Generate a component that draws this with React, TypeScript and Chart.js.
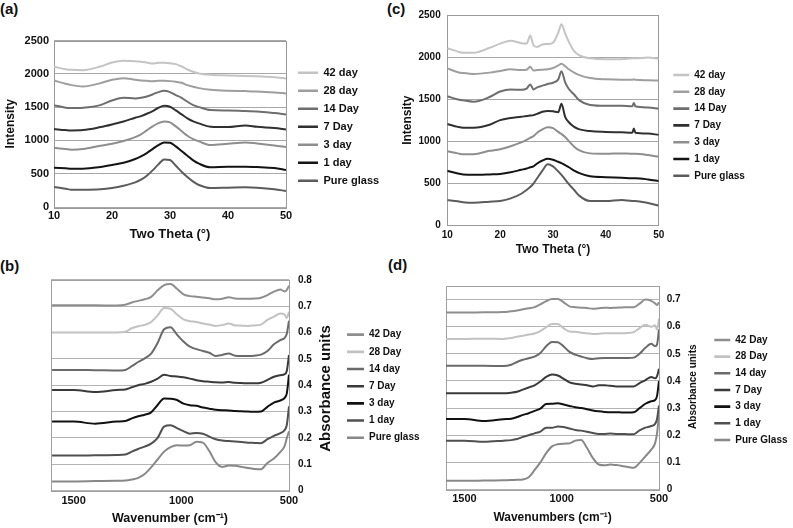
import React, { useEffect, useRef } from 'react';
import { Chart, registerables } from 'chart.js';

Chart.register(...registerables);

const FONT = "'Liberation Sans', Arial, Helvetica, sans-serif";
const TEXT = '#111111';

// ---------- (a) XRD ----------
const thetaA = [10, 12, 13, 15, 18, 20, 22, 24, 25, 26, 27, 28, 29, 30, 31, 32, 33, 34, 35, 37, 40, 43, 45, 48, 50];
const a42 = [2105, 2070, 2060, 2055, 2110, 2170, 2195, 2190, 2180, 2170, 2155, 2165, 2165, 2160, 2145, 2110, 2065, 2030, 2005, 1985, 1975, 1968, 1962, 1950, 1930];
const a28 = [1900, 1850, 1830, 1810, 1860, 1910, 1935, 1910, 1900, 1895, 1890, 1895, 1895, 1890, 1880, 1865, 1830, 1805, 1785, 1760, 1745, 1740, 1735, 1720, 1705];
const a14 = [1530, 1490, 1485, 1490, 1530, 1600, 1640, 1630, 1640, 1660, 1690, 1725, 1745, 1725, 1680, 1640, 1580, 1530, 1500, 1455, 1450, 1440, 1435, 1410, 1390];
const a7 = [1170, 1155, 1150, 1155, 1200, 1240, 1285, 1340, 1365, 1400, 1440, 1490, 1520, 1505, 1450, 1390, 1330, 1285, 1255, 1205, 1200, 1225, 1205, 1185, 1165];
const a3 = [890, 870, 860, 870, 920, 950, 990, 1050, 1090, 1150, 1210, 1260, 1285, 1270, 1210, 1140, 1070, 1020, 985, 930, 950, 970, 955, 925, 900];
const a1 = [590, 580, 575, 575, 600, 630, 665, 720, 760, 810, 870, 930, 970, 965, 910, 840, 770, 700, 650, 595, 605, 605, 600, 585, 555];
const a0 = [300, 275, 260, 258, 265, 285, 320, 370, 410, 470, 550, 640, 715, 705, 620, 530, 450, 380, 330, 285, 290, 295, 290, 268, 240];

// ---------- (c) XRD ----------
const thetaC = [10, 12, 13, 15, 18, 20, 22, 24, 25, 25.7, 26.3, 27, 28, 29, 30, 31, 31.6, 32.3, 33, 34, 35, 37, 40, 43, 45, 45.3, 45.6, 48, 50];
const c42 = [2105, 2065, 2050, 2050, 2110, 2160, 2195, 2165, 2160, 2255, 2140, 2120, 2150, 2155, 2170, 2290, 2390, 2280, 2180, 2070, 2020, 1985, 1975, 1975, 1985, 1985, 1985, 1995, 1980];
const c28 = [1865, 1820, 1810, 1800, 1815, 1835, 1855, 1845, 1850, 1885, 1840, 1845, 1850, 1855, 1870, 1900, 1920, 1890, 1855, 1815, 1785, 1750, 1735, 1730, 1730, 1735, 1730, 1725, 1720];
const c14 = [1535, 1495, 1485, 1470, 1525, 1590, 1615, 1610, 1625, 1675, 1615, 1640, 1660, 1680, 1695, 1735, 1830, 1700, 1620, 1555, 1485, 1430, 1420, 1420, 1415, 1455, 1415, 1400, 1385];
const c7 = [1205, 1170, 1160, 1160, 1195, 1250, 1275, 1290, 1300, 1305, 1310, 1325, 1350, 1360, 1355, 1345, 1445, 1290, 1225, 1170, 1140, 1120, 1110, 1105, 1100, 1150, 1100, 1090, 1075];
const c3 = [880, 855, 845, 845, 885, 905, 940, 985, 1015, 1040, 1060, 1100, 1140, 1165, 1155, 1110, 1085, 1050, 1000, 935, 890, 855, 850, 855, 850, 850, 850, 835, 815];
const c1 = [648, 615, 605, 600, 605, 610, 630, 660, 675, 690, 700, 735, 770, 792, 780, 755, 740, 715, 690, 650, 620, 582, 572, 565, 560, 560, 560, 545, 525];
const c0 = [300, 285, 275, 268, 280, 290, 320, 375, 420, 455, 495, 560, 650, 725, 700, 640, 600, 545, 490, 420, 350, 290, 288, 300, 290, 290, 288, 265, 235];

// ---------- (b) / (d) FTIR ----------
const wave = [1600, 1500, 1400, 1300, 1260, 1230, 1200, 1170, 1140, 1110, 1080, 1050, 1020, 990, 960, 930, 900, 870, 840, 810, 780, 750, 720, 690, 660, 630, 600, 570, 540, 520, 510, 500];

const b42 = [0.703, 0.703, 0.703, 0.702, 0.705, 0.714, 0.72, 0.726, 0.735, 0.76, 0.78, 0.784, 0.766, 0.745, 0.738, 0.736, 0.733, 0.73, 0.726, 0.728, 0.734, 0.729, 0.728, 0.728, 0.729, 0.732, 0.742, 0.755, 0.763, 0.756, 0.762, 0.778];
const b28 = [0.6, 0.6, 0.6, 0.6, 0.603, 0.616, 0.624, 0.629, 0.64, 0.665, 0.693, 0.69, 0.668, 0.65, 0.643, 0.64, 0.634, 0.63, 0.625, 0.628, 0.634, 0.627, 0.626, 0.625, 0.627, 0.63, 0.648, 0.66, 0.672, 0.668, 0.655, 0.678];
const b14 = [0.458, 0.458, 0.457, 0.456, 0.458, 0.472, 0.488, 0.502, 0.52, 0.56, 0.612, 0.62, 0.592, 0.566, 0.546, 0.537, 0.53, 0.523, 0.511, 0.515, 0.52, 0.512, 0.511, 0.511, 0.512, 0.516, 0.53, 0.555, 0.571, 0.58, 0.596, 0.645];
const b7 = [0.382, 0.382, 0.374, 0.382, 0.384, 0.392, 0.4, 0.405, 0.413, 0.425, 0.44, 0.435, 0.433, 0.43, 0.425, 0.419, 0.415, 0.413, 0.411, 0.41, 0.412, 0.409, 0.408, 0.407, 0.407, 0.409, 0.42, 0.432, 0.438, 0.442, 0.455, 0.515];
const b3 = [0.262, 0.262, 0.254, 0.262, 0.264, 0.274, 0.282, 0.288, 0.297, 0.325, 0.35, 0.349, 0.344, 0.33, 0.324, 0.322, 0.315, 0.311, 0.307, 0.305, 0.304, 0.302, 0.301, 0.3, 0.299, 0.3, 0.318, 0.334, 0.342, 0.352, 0.37, 0.44];
const b1 = [0.133, 0.133, 0.134, 0.135, 0.137, 0.148, 0.158, 0.167, 0.178, 0.2, 0.243, 0.248, 0.237, 0.226, 0.216, 0.219, 0.216, 0.205, 0.195, 0.19, 0.188, 0.186, 0.184, 0.182, 0.181, 0.18, 0.195, 0.208, 0.218, 0.23, 0.25, 0.32];
const b0 = [0.035, 0.035, 0.036, 0.037, 0.038, 0.042, 0.048, 0.063, 0.088, 0.118, 0.148, 0.165, 0.172, 0.171, 0.172, 0.185, 0.182, 0.15, 0.107, 0.09, 0.095, 0.094, 0.09, 0.086, 0.082, 0.081, 0.105, 0.122, 0.147, 0.17, 0.2, 0.225];

const d42 = [0.652, 0.652, 0.653, 0.654, 0.657, 0.66, 0.664, 0.668, 0.672, 0.682, 0.694, 0.702, 0.702, 0.69, 0.675, 0.672, 0.67, 0.669, 0.666, 0.668, 0.67, 0.669, 0.67, 0.671, 0.672, 0.672, 0.685, 0.7, 0.695, 0.686, 0.68, 0.69];
const d28 = [0.555, 0.555, 0.556, 0.555, 0.558, 0.563, 0.567, 0.571, 0.575, 0.584, 0.598, 0.61, 0.61, 0.594, 0.582, 0.581, 0.578, 0.576, 0.573, 0.574, 0.576, 0.576, 0.576, 0.576, 0.577, 0.58, 0.595, 0.607, 0.6, 0.605, 0.59, 0.63];
const d14 = [0.456, 0.456, 0.456, 0.455, 0.46, 0.47, 0.478, 0.484, 0.49, 0.503, 0.528, 0.544, 0.543, 0.527, 0.507, 0.497, 0.49, 0.484, 0.481, 0.484, 0.485, 0.485, 0.485, 0.485, 0.485, 0.486, 0.5, 0.522, 0.537, 0.528, 0.535, 0.59];
const d7 = [0.355, 0.355, 0.355, 0.355, 0.357, 0.36, 0.368, 0.376, 0.384, 0.398, 0.415, 0.424, 0.42, 0.408, 0.395, 0.39, 0.387, 0.384, 0.38, 0.384, 0.384, 0.382, 0.38, 0.38, 0.38, 0.38, 0.392, 0.403, 0.415, 0.41, 0.418, 0.445];
const d3 = [0.26, 0.26, 0.252, 0.259, 0.261, 0.267, 0.275, 0.281, 0.29, 0.298, 0.315, 0.316, 0.318, 0.313, 0.308, 0.303, 0.3, 0.296, 0.291, 0.288, 0.286, 0.285, 0.285, 0.284, 0.284, 0.285, 0.3, 0.316, 0.325, 0.33, 0.345, 0.4];
const d1 = [0.18, 0.18, 0.176, 0.18, 0.182, 0.186, 0.194, 0.2, 0.207, 0.213, 0.228, 0.228, 0.232, 0.23, 0.225, 0.219, 0.217, 0.213, 0.208, 0.205, 0.205, 0.206, 0.205, 0.205, 0.204, 0.204, 0.218, 0.228, 0.234, 0.242, 0.26, 0.31];
const d0 = [0.032, 0.032, 0.033, 0.034, 0.035, 0.036, 0.037, 0.045, 0.071, 0.1, 0.134, 0.159, 0.167, 0.169, 0.17, 0.18, 0.182, 0.153, 0.116, 0.092, 0.089, 0.092, 0.09, 0.087, 0.083, 0.08, 0.098, 0.122, 0.147, 0.171, 0.208, 0.275];

// ---------- labels, ticks ----------
const xrdNames = ['42 day', '28 day', '14 Day', '7 Day', '3 day', '1 day', 'Pure glass'];
const ftirNamesB = ['42 Day', '28 Day', '14 day', '7 Day', '3 day', '1 day', 'Pure glass'];
const ftirNamesD = ['42 Day', '28 Day', '14 day', '7 Day', '3 day', '1 day', 'Pure Glass'];
const xrdColors = ['#c4c4c4', '#9e9e9e', '#6e6e6e', '#303030', '#8e8e8e', '#141414', '#5c5c5c'];
const ftirColors = ['#8e8e8e', '#c2c2c2', '#6a6a6a', '#3a3a3a', '#111111', '#505050', '#888888'];
const thetaTicks = [10, 20, 30, 40, 50];
const intensityTicks = [0, 500, 1000, 1500, 2000, 2500];
const waveTicks = [500, 1000, 1500];
const absTicksB = [0, 0.1, 0.2, 0.3, 0.4, 0.5, 0.6, 0.7, 0.8];
const absTicksD = [0, 0.1, 0.2, 0.3, 0.4, 0.5, 0.6, 0.7];

function buildSets(xs: number[], series: number[][], names: string[], colors: string[]) {
  return series.map((ys, i) => ({
    label: names[i],
    data: xs.map((x, j) => ({ x, y: ys[j] })),
    borderColor: colors[i],
    backgroundColor: colors[i],
    borderWidth: 2,
    pointRadius: 0,
    cubicInterpolationMode: 'monotone' as const,
    fill: false,
  }));
}

function f(size: number) {
  return { family: FONT, size, weight: 'bold' as const };
}

function framePlugin(color: string) {
  return {
    id: 'frame',
    beforeDatasetsDraw(chart: any) {
      const { ctx, chartArea: a } = chart;
      ctx.save();
      ctx.strokeStyle = color;
      ctx.lineWidth = 1;
      ctx.strokeRect(Math.round(a.left) + 0.5, Math.round(a.top) + 0.5, Math.round(a.right - a.left), Math.round(a.bottom - a.top));
      ctx.restore();
    },
  };
}

function legendPlace(left: number, top: number) {
  return {
    id: 'legendPlace',
    afterLayout(chart: any) {
      const lg = chart.legend;
      if (!lg) return;
      lg.left = left;
      lg.top = top;
      lg.right = chart.width;
      lg.bottom = chart.height;
      lg.width = chart.width - left;
      lg.height = chart.height - top;
    },
  };
}

function sideTitle(text: string, x: number, y: number, size: number) {
  return {
    id: 'sideTitle',
    afterDraw(chart: any) {
      const ctx = chart.ctx;
      ctx.save();
      ctx.translate(x, y);
      ctx.rotate(-Math.PI / 2);
      ctx.font = `bold ${size}px ${FONT}`;
      ctx.fillStyle = TEXT;
      ctx.textAlign = 'center';
      ctx.textBaseline = 'middle';
      ctx.fillText(text, 0, 0);
      ctx.restore();
    },
  };
}

function legendOpts(size: number, pad: number, boxW: number) {
  return {
    display: true,
    position: 'chartArea' as const,
    align: 'start' as const,
    labels: {
      usePointStyle: true,
      pointStyle: 'line' as const,
      pointStyleWidth: boxW,
      padding: pad,
      font: f(size),
      color: TEXT,
      generateLabels: (chart: any) =>
        Chart.defaults.plugins.legend.labels.generateLabels(chart).map((l: any) => ({ ...l, lineWidth: 2.6 })),
    },
  };
}

function fixedTicks(values: number[]) {
  return (scale: any) => {
    scale.ticks = values.map((v) => ({ value: v }));
  };
}

type PanelCfg = {
  left: number; top: number; width: number; height: number;
  make: () => any;
};

function configA() {
  return {
    type: 'line',
    data: { datasets: buildSets(thetaA, [a42, a28, a14, a7, a3, a1, a0], xrdNames, xrdColors) },
    options: {
      animation: false, responsive: false, maintainAspectRatio: false, devicePixelRatio: 1,
      layout: { padding: { left: 0, top: 40.5, right: 110, bottom: 6.2 } },
      plugins: { legend: legendOpts(11, 7, 20), tooltip: { enabled: false } },
      scales: {
        x: {
          type: 'linear', min: 10, max: 50,
          afterBuildTicks: fixedTicks(thetaTicks),
          ticks: { padding: 2.4, font: f(11), color: TEXT, maxRotation: 0, callback: (v: any) => String(v) },
          grid: { display: false, drawTicks: false }, border: { display: false },
          title: { display: true, text: 'Two Theta (°)', font: f(13), color: TEXT, padding: { top: 0, bottom: 2 } },
          afterFit: (s: any) => { s.height = 36.8; },
        },
        y: {
          type: 'linear', min: 0, max: 2500,
          afterBuildTicks: fixedTicks(intensityTicks),
          ticks: { padding: 5, font: f(11), color: TEXT, callback: (v: any) => String(v) },
          grid: { color: '#a8a8a8', drawTicks: false }, border: { display: false },
          title: { display: true, text: 'Intensity', font: f(12), color: TEXT, padding: { top: 3.3, bottom: 0 } },
          afterFit: (s: any) => { s.width = 54; },
        },
      },
    },
    plugins: [framePlugin('#9a9a9a'), legendPlace(291, 60.2)],
  };
}

function configC() {
  return {
    type: 'line',
    data: { datasets: buildSets(thetaC, [c42, c28, c14, c7, c3, c1, c0], xrdNames, xrdColors) },
    options: {
      animation: false, responsive: false, maintainAspectRatio: false, devicePixelRatio: 1,
      layout: { padding: { left: 0, top: 15, right: 134.3, bottom: 10.8 } },
      plugins: { legend: legendOpts(10, 6.8, 16), tooltip: { enabled: false } },
      scales: {
        x: {
          type: 'linear', min: 10, max: 50,
          afterBuildTicks: fixedTicks(thetaTicks),
          ticks: { padding: 3.7, font: f(10), color: TEXT, maxRotation: 0, callback: (v: any) => String(v) },
          grid: { display: false, drawTicks: false }, border: { display: false },
          title: { display: true, text: 'Two Theta (°)', font: f(12), color: TEXT, padding: { top: 0, bottom: 2 } },
          afterFit: (s: any) => { s.height = 33.9; },
        },
        y: {
          type: 'linear', min: 0, max: 2500,
          afterBuildTicks: fixedTicks(intensityTicks),
          ticks: { padding: 6.6, font: f(10), color: TEXT, callback: (v: any) => String(v) },
          grid: { color: '#a8a8a8', drawTicks: false }, border: { display: false },
          title: { display: true, text: 'Intensity', font: f(12), color: TEXT, padding: { top: 4.8, bottom: 0 } },
          afterFit: (s: any) => { s.width = 51.3; },
        },
      },
    },
    plugins: [framePlugin('#9a9a9a'), legendPlace(270.5, 63.2)],
  };
}

function configB() {
  return {
    type: 'line',
    data: { datasets: buildSets(wave, [b42, b28, b14, b7, b3, b1, b0], ftirNamesB, ftirColors) },
    options: {
      animation: false, responsive: false, maintainAspectRatio: false, devicePixelRatio: 1,
      layout: { padding: { left: 51, top: 29.8, right: 121, bottom: 0.2 } },
      plugins: { legend: legendOpts(10, 7.17, 17), tooltip: { enabled: false } },
      scales: {
        x: {
          type: 'linear', min: 500, max: 1605, reverse: true,
          afterBuildTicks: fixedTicks(waveTicks),
          ticks: { padding: 3.8, font: f(11), color: TEXT, maxRotation: 0, callback: (v: any) => String(v) },
          grid: { display: false, drawTicks: false }, border: { display: false },
          title: { display: true, text: 'Wavenumber (cm⁻¹)', font: f(12.5), color: TEXT, padding: { top: 0, bottom: 2 } },
          afterFit: (s: any) => { s.height = 37.2; },
        },
        y: {
          type: 'linear', position: 'right', min: 0, max: 0.8,
          afterBuildTicks: fixedTicks(absTicksB),
          ticks: { padding: 9, font: f(10), color: TEXT, callback: (v: any) => String(v) },
          grid: { color: '#b4b4b4', drawTicks: false }, border: { display: false },
          afterFit: (s: any) => { s.width = 30; },
        },
      },
    },
    plugins: [framePlugin('#a0a0a0'), legendPlace(339.8, 72.5), sideTitle('Absorbance units', 325.6, 138.5, 15)],
  };
}

function configD() {
  return {
    type: 'line',
    data: { datasets: buildSets(wave, [d42, d28, d14, d7, d3, d1, d0], ftirNamesD, ftirColors) },
    options: {
      animation: false, responsive: false, maintainAspectRatio: false, devicePixelRatio: 1,
      layout: { padding: { left: 50, top: 36, right: 104, bottom: 1.5 } },
      plugins: { legend: legendOpts(10, 6.67, 16), tooltip: { enabled: false } },
      scales: {
        x: {
          type: 'linear', min: 500, max: 1595, reverse: true,
          afterBuildTicks: fixedTicks(waveTicks),
          ticks: { padding: 3.2, font: f(11), color: TEXT, maxRotation: 0, callback: (v: any) => String(v) },
          grid: { display: false, drawTicks: false }, border: { display: false },
          title: { display: true, text: 'Wavenumbers (cm⁻¹)', font: f(12), color: TEXT, padding: { top: 0, bottom: 2 } },
          afterFit: (s: any) => { s.height = 37; },
        },
        y: {
          type: 'linear', position: 'right', min: 0, max: 0.75,
          afterBuildTicks: fixedTicks(absTicksD),
          ticks: { padding: 7.7, font: f(10), color: TEXT, callback: (v: any) => String(v) },
          grid: { color: '#b4b4b4', drawTicks: false }, border: { display: false },
          afterFit: (s: any) => { s.width = 30; },
        },
      },
    },
    plugins: [framePlugin('#a0a0a0'), legendPlace(311.6, 78.3), sideTitle('Absorbance units', 297, 136.7, 10)],
  };
}

function Panel({ left, top, width, height, make }: PanelCfg) {
  const ref = useRef<HTMLCanvasElement>(null);
  useEffect(() => {
    const chart = new Chart(ref.current as HTMLCanvasElement, make());
    return () => chart.destroy();
  }, []);
  return (
    <canvas
      ref={ref}
      width={width}
      height={height}
      style={{ position: 'absolute', left, top, width, height }}
    />
  );
}

const labelStyle = (left: number, top: number): React.CSSProperties => ({
  position: 'absolute', left, top, font: `bold 15px ${FONT}`, color: TEXT, lineHeight: '18px',
});

export default function App() {
  return (
    <div style={{ position: 'absolute', left: 0, top: 0, width: 793, height: 528, background: '#fff', overflow: 'hidden' }}>
      <div style={labelStyle(0, 0)}>(a)</div>
      <div style={labelStyle(387, 0)}>(c)</div>
      <div style={labelStyle(0, 257)}>(b)</div>
      <div style={labelStyle(388, 256)}>(d)</div>
      <Panel left={0} top={0} width={396} height={250} make={configA} />
      <Panel left={396} top={0} width={397} height={270} make={configC} />
      <Panel left={0} top={250} width={440} height={278} make={configB} />
      <Panel left={396} top={250} width={397} height={278} make={configD} />
    </div>
  );
}
